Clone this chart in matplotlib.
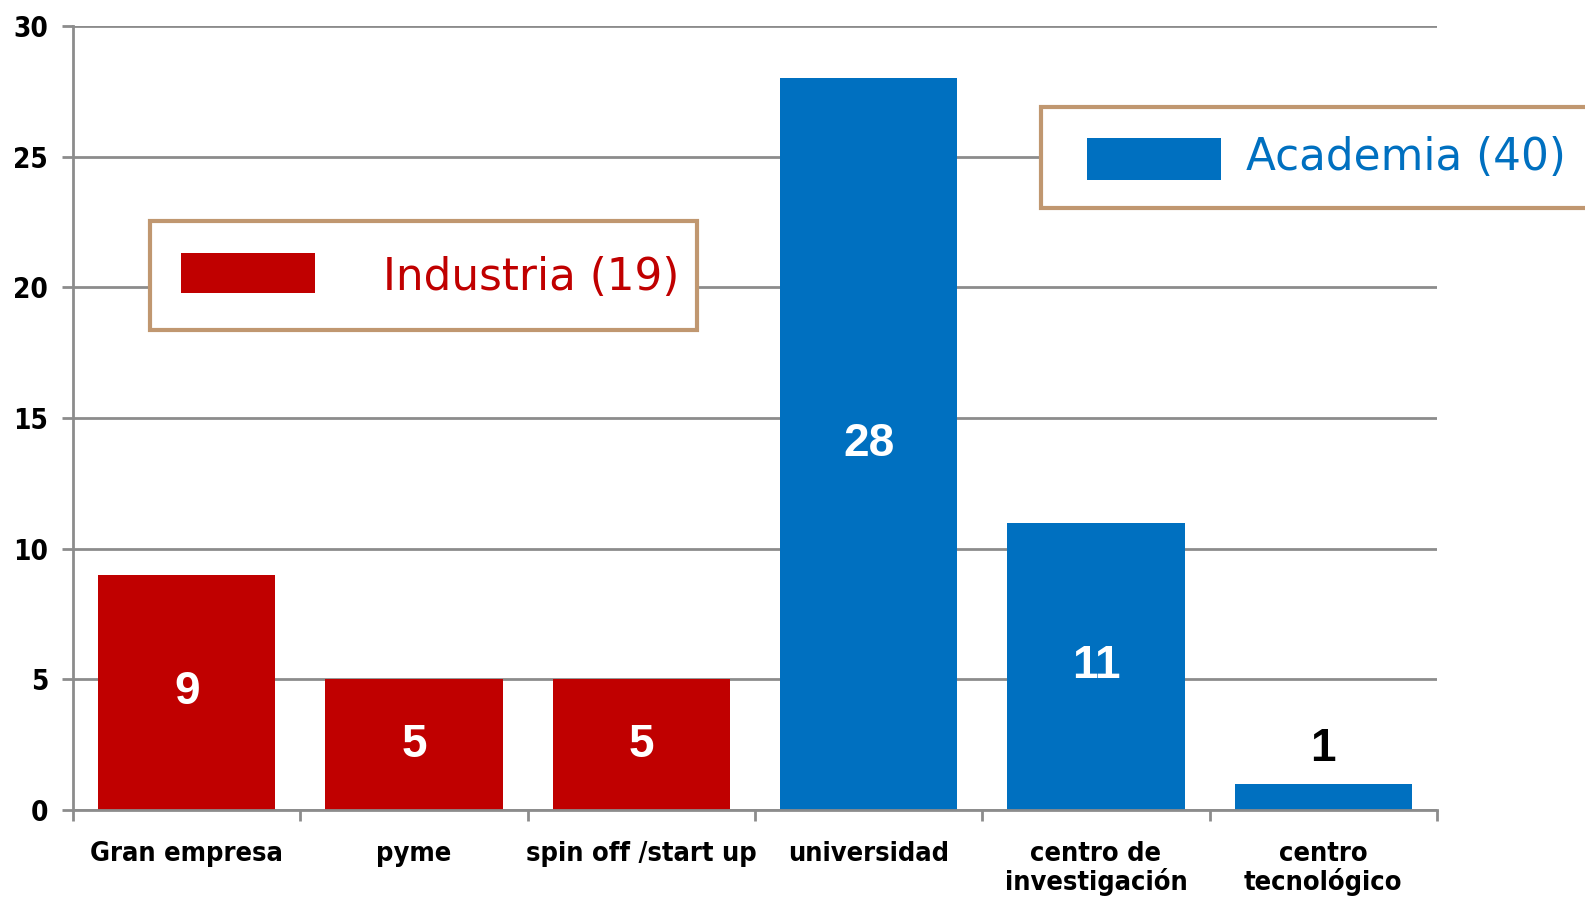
import matplotlib.pyplot as plt
import matplotlib.patches as mpatches
import numpy as np

# categories and counts
categories = ['Gran empresa', 'pyme', 'spin off /start up', 'universidad',
              'centro de\ninvestigación', 'centro\ntecnológico']
counts = [9, 5, 5, 28, 11, 1]
groups = ['Industria', 'Industria', 'Industria', 'Academia', 'Academia', 'Academia']
group_totals = {'Industria': 19, 'Academia': 40}
group_colors = {'Industria': '#c00000', 'Academia': '#0070c0'}
yticks = [0, 5, 10, 15, 20, 25, 30]

W, H = 1585, 902
fig = plt.figure(figsize=(W / 100, H / 100), dpi=100)


def px(x, y):
    # pixel position -> figure fraction
    return x / W, 1 - y / H


ax = fig.add_axes([73 / W, 1 - 810 / H, (1437 - 73) / W, (810 - 26) / H])

grid_col = '#8c8c8c'
x = np.arange(len(categories))
colors = [group_colors[g] for g in groups]
bars = ax.bar(x, counts, width=0.78, color=colors, zorder=2)

ax.set_xlim(-0.5, len(categories) - 0.5)
ax.set_ylim(0, 30)
ax.set_yticks(yticks)
ax.set_yticklabels([str(t) for t in yticks], fontsize=20, fontweight='bold',
                   family='DejaVu Sans', stretch='condensed')
ax.yaxis.grid(True, color=grid_col, linewidth=2, zorder=0)
ax.set_axisbelow(True)

# category labels at bar centres, tick marks at boundaries
ax.set_xticks(x)
ax.set_xticklabels(categories, fontsize=19.5, fontweight='bold', linespacing=1.05, va='top',
                   family='DejaVu Sans', stretch='condensed')
ax.set_xticks(np.arange(len(categories) + 1) - 0.5, minor=True)
ax.tick_params(axis='x', which='major', length=0, pad=22)
ax.tick_params(axis='x', which='minor', length=8, width=2, color=grid_col)
ax.tick_params(axis='y', length=8, width=2, color=grid_col, pad=10)

for s in ['top', 'right']:
    ax.spines[s].set_visible(False)
for s in ['left', 'bottom']:
    ax.spines[s].set_color(grid_col)
    ax.spines[s].set_linewidth(2)

# value labels
for bar, v in zip(bars, counts):
    cx = bar.get_x() + bar.get_width() / 2
    if v >= 3:
        ax.text(cx, v / 2, str(v), ha='center', va='center', color='white',
                fontsize=33, fontweight='bold', family='Liberation Sans', zorder=3)
    else:
        ax.annotate(str(v), (cx, v), xytext=(0, 9), textcoords='offset points',
                    ha='center', va='bottom', color='black',
                    fontsize=33, fontweight='bold', family='Liberation Sans')

# group boxes (drawn in figure pixels)
edge = '#c09770'


def group_box(name, box, patch, text_x, text_y):
    x0, y0, x1, y1 = box
    bx, by = px(x0, y1)
    fig.patches.append(mpatches.Rectangle((bx, by), (x1 - x0) / W, (y1 - y0) / H,
                                          transform=fig.transFigure, facecolor='white',
                                          edgecolor=edge, linewidth=3, clip_on=False))
    p0, q0, p1, q1 = patch
    rx, ry = px(p0, q1)
    fig.patches.append(mpatches.Rectangle((rx, ry), (p1 - p0) / W, (q1 - q0) / H,
                                          transform=fig.transFigure,
                                          facecolor=group_colors[name], edgecolor='none'))
    tx, ty = px(text_x, text_y)
    fig.text(tx, ty, f'{name} ({group_totals[name]})', color=group_colors[name],
             fontsize=31.5, ha='left', va='center')


group_box('Industria', (150, 221, 697, 330), (181, 253, 315, 293), 383, 277)
group_box('Academia', (1041, 107, 1620, 208), (1087, 138, 1221, 180), 1246, 157)

fig.savefig('out.png', dpi=100)
